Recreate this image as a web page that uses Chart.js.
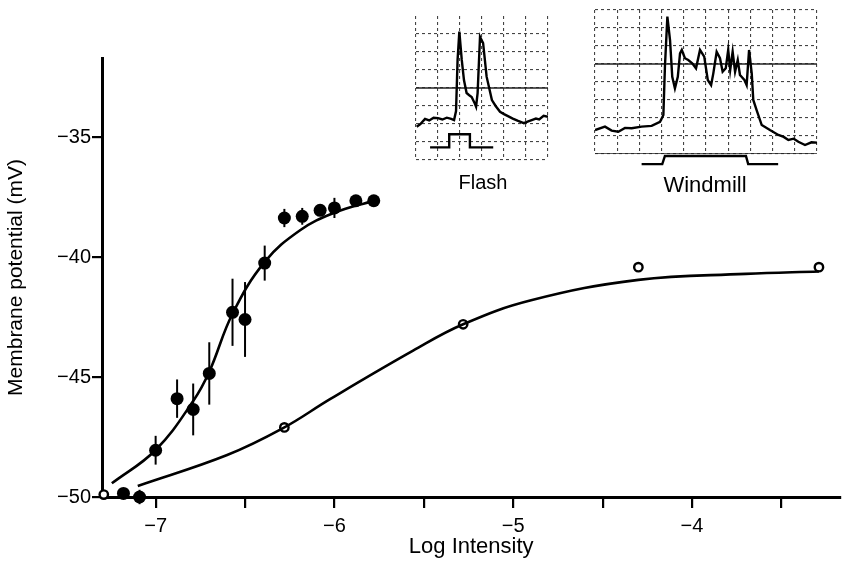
<!DOCTYPE html>
<html>
<head>
<meta charset="utf-8">
<script src="https://cdn.jsdelivr.net/npm/chart.js@4.4.1/dist/chart.umd.min.js"></script>
<style>
  body { margin: 0; background: #fff; }
  #wrap { position: relative; width: 847px; height: 564px; }
  canvas { position: absolute; }
  .lbl { position: absolute; font-family: "Liberation Sans", Arial, sans-serif; color: #000; transform: translate(-50%, -50%); white-space: nowrap; }
</style>
</head>
<body>
<div id="wrap">
  <canvas id="main" width="847" height="564" style="left:0;top:0"></canvas>
  <canvas id="flash" width="140" height="152" style="left:412px;top:12px"></canvas>
  <canvas id="windmill" width="230" height="164" style="left:591px;top:6px"></canvas>
  <div class="lbl" style="left:483px;top:182px;font-size:20px">Flash</div>
  <div class="lbl" style="left:705px;top:185px;font-size:22px">Windmill</div>
</div>
<script>
// ---- main plot data (log intensity vs membrane potential, mV)
var filledX = [-7.18, -7.09, -7.0, -6.88, -6.79, -6.70, -6.57, -6.50, -6.39, -6.28, -6.18, -6.08, -6.0, -5.88, -5.78];
var filledY = [-49.85, -50.0, -48.05, -45.9, -46.35, -44.85, -42.3, -42.6, -40.25, -38.37, -38.3, -38.05, -37.95, -37.65, -37.65];
var filledErr = [0, 0.3, 0.6, 0.8, 1.08, 1.3, 1.4, 1.56, 0.73, 0.38, 0.35, 0, 0.42, 0, 0];

var openX = [-7.29, -6.28, -5.28, -4.30, -3.29];
var openY = [-49.9, -47.1, -42.8, -40.42, -40.42];

var fitFilledX = [-7.245, -7.0, -6.79, -6.70, -6.57, -6.39, -6.19, -6.0, -5.78];
var fitFilledY = [-49.43, -48.04, -46.0, -44.78, -42.36, -40.2, -38.87, -38.15, -37.65];

var fitOpenX = [-7.1, -6.6, -6.29, -6.02, -5.56, -5.28, -4.9, -4.3, -3.7, -3.29];
var fitOpenY = [-49.54, -48.25, -47.14, -45.9, -43.9, -42.8, -41.8, -40.95, -40.7, -40.6];

var xTicks = [-7, -6.5, -6, -5.5, -5, -4.5, -4, -3.5];
var yTicks = [-50, -45, -40, -35];

// ---- inset traces (time in grid divisions, voltage in grid divisions)
var flashT = [0.03, 0.2, 0.41, 0.6, 0.8, 1.0, 1.2, 1.4, 1.6, 1.73, 1.82, 1.89, 1.97, 2.08, 2.18, 2.3, 2.42, 2.53, 2.65, 2.73, 2.8, 2.91, 3.05, 3.21, 3.45, 3.62, 3.82, 4.0, 4.18, 4.4, 4.64, 4.9, 5.1, 5.26, 5.45, 5.6, 5.8, 6.0];
var flashV = [1.85, 2.0, 2.28, 2.2, 2.35, 2.33, 2.25, 2.35, 2.28, 2.22, 2.72, 5.56, 7.13, 5.56, 4.44, 3.72, 3.6, 3.5, 3.2, 2.96, 3.72, 6.85, 6.5, 4.63, 3.33, 3.0, 2.68, 2.55, 2.44, 2.3, 2.17, 2.05, 2.15, 2.22, 2.3, 2.25, 2.45, 2.4];
var flashStimT = [0.64, 1.51, 1.51, 2.45, 2.45, 3.51];
var flashStimV = [0.7, 0.7, 1.43, 1.43, 0.7, 0.7];
var flashSolid = [4];

var windT = [0, 0.45, 0.75, 1.05, 1.35, 1.65, 2.1, 2.55, 2.93, 3.08, 3.15, 3.26, 3.38, 3.48, 3.6, 3.73, 3.83, 3.91, 4.05, 4.2, 4.38, 4.55, 4.73, 4.92, 5.08, 5.23, 5.33, 5.48, 5.63, 5.75, 5.89, 6.0, 6.09, 6.2, 6.31, 6.43, 6.53, 6.73, 6.83, 6.94, 7.06, 7.13, 7.28, 7.51, 7.88, 8.26, 8.5, 8.71, 8.95, 9.16, 9.46, 9.75, 10.0];
var windV = [1.33, 1.52, 1.3, 1.24, 1.45, 1.43, 1.52, 1.56, 1.79, 2.17, 4.85, 7.63, 6.33, 4.29, 3.65, 4.29, 5.59, 5.78, 5.32, 5.22, 5.04, 4.76, 5.78, 5.41, 4.11, 3.83, 4.48, 5.68, 5.32, 4.57, 4.76, 5.78, 4.67, 5.68, 4.57, 5.22, 4.39, 4.11, 3.83, 5.78, 4.48, 3.0, 2.44, 1.61, 1.33, 1.06, 0.95, 0.78, 0.85, 0.68, 0.5, 0.65, 0.63];
var windStimT = [2.1, 3.03, 3.15, 6.8, 6.9, 8.25];
var windStimV = [-0.56, -0.56, -0.11, -0.11, -0.56, -0.56];
var windSolid = [0, 5];

function pts(xs, ys) {
    return xs.map(function (x, i) { return { x: x, y: ys[i] }; });
}

var FONT = '"Liberation Sans", Arial, sans-serif';

// Error bars on the filled points
var errorBars = {
    id: 'errorBars',
    afterDatasetsDraw: function (chart) {
        var ctx = chart.ctx, xs = chart.scales.x, ys = chart.scales.y;
        ctx.save();
        ctx.strokeStyle = '#000';
        ctx.lineWidth = 2;
        filledX.forEach(function (x, i) {
            if (!filledErr[i]) return;
            var px = xs.getPixelForValue(x);
            ctx.beginPath();
            ctx.moveTo(px, ys.getPixelForValue(filledY[i] - filledErr[i]));
            ctx.lineTo(px, ys.getPixelForValue(filledY[i] + filledErr[i]));
            ctx.stroke();
        });
        ctx.restore();
    }
};

new Chart(document.getElementById('main'), {
    type: 'scatter',
    data: {
        datasets: [
            { type: 'line', data: pts(fitFilledX, fitFilledY), borderColor: '#000', borderWidth: 2.6, pointRadius: 0, tension: 0.4, fill: false },
            { type: 'line', data: pts(fitOpenX, fitOpenY), borderColor: '#000', borderWidth: 2.6, pointRadius: 0, tension: 0.4, fill: false },
            { data: pts(filledX, filledY), pointRadius: 6.5, backgroundColor: '#000', borderColor: '#000', borderWidth: 0, clip: false },
            { data: pts(openX, openY), pointRadius: 4.2, backgroundColor: '#fff', borderColor: '#000', borderWidth: 2.4, clip: false }
        ]
    },
    options: {
        responsive: false,
        animation: false,
        events: [],
        layout: { padding: { top: 58, right: 0, bottom: 0, left: 0 } },
        plugins: { legend: { display: false }, tooltip: { enabled: false } },
        scales: {
            x: {
                type: 'linear',
                min: -7.3,
                max: -3.17,
                afterBuildTicks: function (s) { s.ticks = xTicks.map(function (v) { return { value: v }; }); },
                afterFit: function (s) { s.height = 67; },
                grid: { drawOnChartArea: false, drawTicks: true, tickLength: 11, color: '#000', lineWidth: 2.2 },
                border: { color: '#000', width: 3 },
                ticks: {
                    padding: 6,
                    color: '#000',
                    font: { family: FONT, size: 20 },
                    autoSkip: false,
                    maxRotation: 0,
                    callback: function (v) { return Number.isInteger(v) ? '\u2212' + Math.abs(v) : ''; }
                },
                title: { display: true, text: 'Log Intensity', color: '#000', font: { family: FONT, size: 22 }, padding: { top: 0, bottom: 4 } }
            },
            y: {
                type: 'linear',
                min: -50,
                max: -31.7,
                afterBuildTicks: function (s) { s.ticks = yTicks.map(function (v) { return { value: v }; }); },
                afterFit: function (s) { s.width = 102; },
                grid: { drawOnChartArea: false, drawTicks: true, tickLength: 10, color: '#000', lineWidth: 2.2 },
                border: { color: '#000', width: 3 },
                ticks: {
                    padding: 1,
                    color: '#000',
                    font: { family: FONT, size: 20 },
                    callback: function (v) { return '\u2212' + Math.abs(v); }
                },
                title: { display: true, text: 'Membrane potential (mV)', color: '#000', font: { family: FONT, size: 21 }, padding: { top: 4, bottom: 0 } }
            }
        }
    },
    plugins: [errorBars]
});

// Inset oscilloscope traces
function inset(id, opt) {
    var datasets = [
        { data: pts(opt.t, opt.v), borderColor: '#000', borderWidth: 2.4, pointRadius: 0, tension: 0 },
        { data: pts(opt.st, opt.sv), borderColor: '#000', borderWidth: 2.4, pointRadius: 0, tension: 0, clip: false }
    ];
    opt.solid.forEach(function (v) {
        datasets.push({ data: pts([0, opt.xmax], [v, v]), borderColor: '#222', borderWidth: 1.3, pointRadius: 0 });
    });
    new Chart(document.getElementById(id), {
        type: 'line',
        data: { datasets: datasets },
        options: {
            responsive: false,
            animation: false,
            events: [],
            layout: { padding: opt.pad },
            plugins: { legend: { display: false }, tooltip: { enabled: false } },
            scales: {
                x: {
                    type: 'linear', min: 0, max: opt.xmax,
                    ticks: { display: false, stepSize: 1 },
                    afterFit: function (s) { s.height = 0; },
                    grid: { drawTicks: false, color: '#444', lineWidth: 1.1 },
                    border: { display: false, dash: [3, 3] }
                },
                y: {
                    type: 'linear', min: 0, max: 8,
                    ticks: { display: false, stepSize: 1 },
                    afterFit: function (s) { s.width = 0; },
                    grid: {
                        drawTicks: false, lineWidth: 1.1,
                        color: function (c) { return (c.tick && c.tick.value > opt.ytop) ? 'rgba(0,0,0,0)' : '#444'; }
                    },
                    border: { display: false, dash: [3, 3] }
                }
            }
        }
    });
}

inset('flash', { t: flashT, v: flashV, st: flashStimT, sv: flashStimV, solid: flashSolid, xmax: 6, ytop: 7, pad: 4 });
inset('windmill', { t: windT, v: windV, st: windStimT, sv: windStimV, solid: windSolid, xmax: 10, ytop: 8, pad: { left: 4, right: 4, top: 4, bottom: 16 } });
</script>
</body>
</html>
